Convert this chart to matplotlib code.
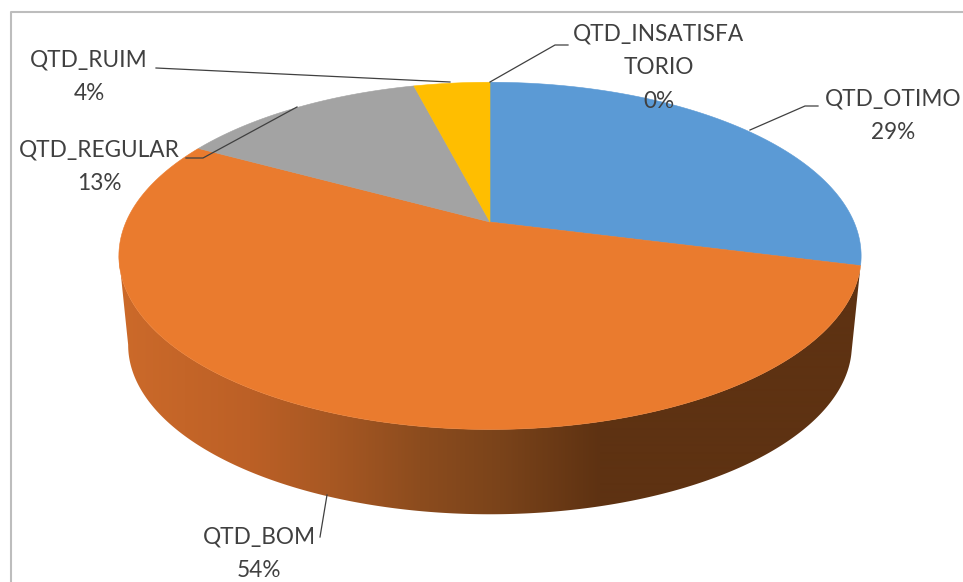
import numpy as np
import matplotlib
matplotlib.use("Agg")
import matplotlib.pyplot as plt
from matplotlib.patches import Polygon
from matplotlib.colors import to_rgb

plt.rcParams['font.family'] = ['Lato', 'DejaVu Sans']

# dados da pizza, sentido horario a partir do topo
names = ["QTD_OTIMO", "QTD_BOM", "QTD_REGULAR", "QTD_RUIM", "QTD_INSATISFATORIO"]
values = [29, 54, 13, 4, 0]
colors = ["#5B9AD5", "#EA7B2E", "#A3A3A3", "#FFBE00", "#4472C4"]

# rotulos: nome em linhas, x, y
label_text = ["QTD_OTIMO\n29%", "QTD_BOM\n54%", "QTD_REGULAR\n13%", "QTD_RUIM\n4%",
              "QTD_INSATISFA\nTORIO\n0%"]
label_x = [893, 259, 99, 89, 659]
label_y = [115.5, 554, 167, 77, 67.5]

# linhas de chamada
leaders = [[(818, 106), (805, 106), (750, 130)],
           [(320, 537), (327, 495)],
           [(186, 158), (203, 158), (297, 107)],
           [(156, 68), (450, 82)],
           [(568, 45), (555, 45), (490, 82)]]

# gradiente da lateral em funcao de x
side_x = [120, 250, 330, 420, 500, 600, 860]
side_c = ["#CC6A2A", "#BC6026", "#A85823", "#8C4C1E", "#7A431A", "#5E3212", "#5E3212"]

# perspectiva do disco
cx, cy = 490, 222
R, c, k = 364, 167, 0.195
depth, shrink = 90, 0.975


def project(theta, bottom=False):
    X = np.sin(theta)
    Y = np.cos(theta)
    px = R * X / (1 + k * Y)
    py = -c * Y / (1 + k * Y)
    if bottom:
        return cx + shrink * px, cy + shrink * py + depth
    return cx + px, cy + py


fig = plt.figure(figsize=(9.63, 5.82), dpi=100)
ax = fig.add_axes([0, 0, 1, 1])
ax.axis('off')

# borda do grafico
ax.plot([10.5, 10.5, 963], [582, 12, 12], color='#BDBDBD', lw=1.5, zorder=1)

fracs = np.array(values) / sum(values)
edges = np.concatenate([[0], np.cumsum(fracs)]) * 2 * np.pi

# lateral: gradiente recortado pela faixa do disco
grad_x = np.arange(100, 880)
rgb = np.array([to_rgb(s) for s in side_c])
grad = np.stack([np.interp(grad_x, side_x, rgb[:, j]) for j in range(3)], axis=-1)[None, :, :]
for i in range(len(values)):
    if values[i] == 0:
        continue
    th = np.linspace(edges[i], edges[i + 1], 400)
    xt, yt = project(th)
    # so ate o ponto mais a esquerda, o resto fica atras do topo
    th = th[:np.argmin(xt) + 1]
    if len(th) < 2:
        continue
    xt, yt = project(th)
    xb, yb = project(th, True)
    pts = list(zip(xt, yt)) + list(zip(xb[::-1], yb[::-1]))
    clip = Polygon(pts, closed=True, transform=ax.transData, facecolor='none', edgecolor='none')
    ax.add_patch(clip)
    im = ax.imshow(grad, extent=(100, 880, 560, 60), aspect='auto', zorder=2, interpolation='bilinear')
    im.set_clip_path(clip)

# topo
for i in range(len(values)):
    if values[i] == 0:
        continue
    th = np.linspace(edges[i], edges[i + 1], 200)
    xs, ys = project(th)
    pts = [(cx, cy)] + list(zip(xs, ys))
    ax.add_patch(Polygon(pts, closed=True, facecolor=colors[i], edgecolor=colors[i], lw=0.4, zorder=3))

for pts in leaders:
    ax.plot([p[0] for p in pts], [p[1] for p in pts], color='#404040', lw=0.9, zorder=4)

for t, x, y in zip(label_text, label_x, label_y):
    ax.text(x, y, t, ha='center', va='center', fontsize=16.3, color='#404040',
            linespacing=1.75, zorder=5)

ax.set_xlim(0, 963)
ax.set_ylim(582, 0)

fig.savefig("out.png", dpi=100)
